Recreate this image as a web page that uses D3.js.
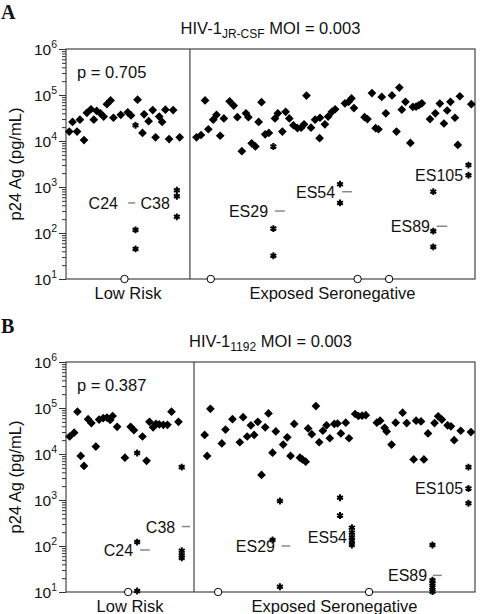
<!DOCTYPE html>
<html><head><meta charset="utf-8">
<script src="https://cdn.jsdelivr.net/npm/d3@7"></script>
<style>
body{margin:0;background:#fff}
text{font-family:"Liberation Sans",Arial,Helvetica,sans-serif;fill:#111}
</style>
</head><body><svg id="c" width="480" height="614"></svg>
<script>
// ---------- DATA (x = donor position 0..100 along the axis, y = p24 Ag pg/mL) ----------
const yTickValues = [10, 100, 1000, 10000, 100000, 1000000];
const yTickExponents = ["1", "2", "3", "4", "5", "6"];
const groupLabels = ["Low Risk", "Exposed Seronegative"];

// Panel A: HIV-1 JR-CSF
const aTitleMain = "HIV-1", aTitleSub = "JR-CSF", aTitleRest = " MOI = 0.003";
const aPValue = "p = 0.705";
const aDivider = 30.3;
const aLowRisk = [[0.8,1.6e4],[1.6,2.6e4],[2.7,1.6e4],[3.4,2.9e4],[4.4,1.05e4],[5.1,4.1e4],[6.1,4.9e4],[6.8,2.9e4],[7.5,4.5e4],[8.4,4.0e4],[9.2,3.4e4],[10.0,6.3e4],[10.9,7.6e4],[11.6,3.2e4],[13.4,3.7e4],[15.1,4.2e4],[15.9,3.6e4],[17.5,7.9e4],[18.7,1.5e4],[19.1,3.8e4],[20.2,2.7e4],[21.2,4.7e4],[21.9,1.2e4],[22.8,3.4e4],[23.5,2.6e4],[24.3,4.8e4],[25.2,1.1e4],[26.2,4.7e4],[27.8,1.2e4]];
const aExposed = [[31.9,1.2e4],[33.0,1.35e4],[34.0,7.6e4],[34.8,1.8e4],[36.0,2.9e4],[36.8,3.7e4],[37.7,1.3e4],[38.6,3.1e4],[40.0,7.3e4],[41.0,5.9e4],[41.9,3.3e4],[43.0,6.0e3],[44.0,4.0e4],[44.6,3.3e4],[45.4,8.9e3],[46.3,7.6e3],[47.1,2.6e4],[47.8,7.0e4],[48.7,1.4e4],[49.6,1.5e4],[51.1,3.1e4],[51.8,4.0e4],[52.9,1.6e4],[53.7,4.3e4],[54.6,3.1e4],[55.6,2.2e4],[56.6,1.9e4],[57.5,1.95e4],[58.2,2.3e4],[58.8,9.7e4],[59.9,1.95e4],[60.9,2.9e4],[62.1,3.2e4],[62.0,1.15e4],[63.3,2.3e4],[64.1,3.4e4],[65.0,4.3e4],[65.8,4.9e4],[68.2,6.6e4],[69.1,7.1e4],[69.8,8.4e4],[70.4,5.2e4],[73.0,3.3e4],[73.7,3.0e4],[74.8,1.1e5],[75.7,1.9e4],[76.4,1.8e4],[77.2,9.1e4],[78.2,4.0e4],[79.7,9.8e4],[80.8,1.6e4],[81.5,1.45e5],[82.1,4.8e4],[83.0,7.1e4],[84.2,9.1e3],[84.8,5.5e4],[85.6,5.6e4],[86.3,6.0e4],[87.0,6.6e4],[89.0,3.0e4],[90.3,4.0e4],[91.4,6.5e4],[92.4,2.4e4],[93.2,4.6e4],[94.0,7.1e4],[95.1,3.2e4],[95.8,8.2e3],[96.3,9.4e4],[99.1,6.3e4]];
const aAsterisks = [[17.0,2.2e4],[17.0,117],[17.0,45],[27.1,850],[27.1,630],[27.1,225],[50.7,7.6e3],[50.7,125],[50.7,32],[67.0,1150],[67.0,450],[89.8,790],[89.8,110],[89.8,50],[98.4,3000],[98.4,1800]];
const aBelowLimit = [14.3, 35.4, 71.3, 79.0];
const aDonorLabels = [
  {name:"C24", end:12.7, v:450, dash:[15.2,16.9]},
  {name:"C38", end:25.4, v:450, dash:null},
  {name:"ES29", end:49.4, v:300, dash:[51.1,53.5]},
  {name:"ES54", end:65.8, v:790, dash:[67.5,69.9]},
  {name:"ES89", end:89.0, v:140, dash:[90.7,93.2]},
  {name:"ES105", end:97.1, v:1800, dash:null}
];

// Panel B: HIV-1 1192
const bTitleMain = "HIV-1", bTitleSub = "1192", bTitleRest = " MOI = 0.003";
const bPValue = "p = 0.387";
const bDivider = 31.3;
const bLowRisk = [[0.9,2.4e4],[2.0,2.9e4],[2.8,8.3e4],[3.6,9.1e3],[4.4,5.5e3],[5.4,5.7e4],[6.2,4.7e4],[7.3,1.45e4],[8.1,5.6e4],[9.1,6.0e4],[10.0,6.2e4],[10.8,5.5e4],[11.4,6.7e4],[12.5,3.9e4],[14.4,8.3e3],[15.8,3.9e4],[16.6,3.3e4],[18.7,2.4e4],[19.7,7.1e3],[20.4,5.0e4],[21.3,3.8e4],[22.0,4.5e4],[22.8,4.4e4],[23.8,4.3e4],[24.8,4.3e4],[25.8,8.3e4],[27.5,5.0e4]];
const bExposed = [[33.9,2.6e4],[34.5,9.1e3],[35.3,9.6e4],[38.1,1.7e4],[39.0,3.4e4],[40.7,5.7e4],[42.5,1.8e4],[43.3,6.3e4],[44.3,2.4e4],[45.2,4.2e4],[46.0,2.6e4],[46.9,5.0e4],[47.8,3.5e3],[48.7,3.8e4],[49.5,7.6e4],[50.5,1.07e4],[51.3,3.1e4],[53.1,1.6e4],[54.1,2.3e4],[54.9,9.1e3],[55.8,4.5e4],[57.2,8.3e3],[57.8,7.6e3],[58.6,6.8e3],[59.2,3.6e4],[60.1,2.7e4],[61.1,1.1e5],[61.9,1.8e4],[62.8,3.2e4],[63.7,4.2e4],[64.5,2.2e4],[65.6,4.5e4],[66.4,4.6e4],[67.2,2.8e4],[68.4,4.8e4],[69.2,2.2e4],[70.7,7.4e4],[71.5,6.7e4],[72.4,6.8e4],[73.3,7.0e4],[76.0,4.8e4],[76.8,5.3e4],[77.9,3.7e4],[78.4,3.1e4],[79.6,1.6e4],[80.6,4.8e4],[82.3,7.9e4],[83.3,4.7e4],[85.0,7.6e3],[85.6,5.3e4],[86.8,5.1e4],[87.5,7.6e3],[88.5,2.8e4],[90.1,4.7e4],[91.0,6.6e4],[91.9,5.6e4],[93.3,4.2e4],[94.1,4.0e4],[94.9,2.0e4],[96.5,3.2e4],[99.0,3.0e4]];
const bAsterisks = [[17.4,1.05e4],[17.4,122],[17.4,10.5],[28.3,5200],[28.3,79],[28.3,63],[28.3,55],[52.3,950],[50.5,135],[52.3,13],[67.0,1120],[67.0,460],[69.9,250],[69.9,195],[69.9,155],[69.9,129],[69.9,105],[89.6,105],[89.6,18],[89.6,15.5],[89.6,12.6],[89.6,10.2],[98.4,5200],[98.4,1780],[98.4,850]];
const bBelowLimit = [15.2, 37.2, 74.1];
const bDonorLabels = [
  {name:"C24", end:16.4, v:82, dash:[18.1,20.5]},
  {name:"C38", end:26.7, v:265, dash:[28.3,30.3]},
  {name:"ES29", end:51.1, v:100, dash:[52.7,54.8]},
  {name:"ES54", end:68.7, v:155, dash:null},
  {name:"ES89", end:88.3, v:23, dash:[89.7,91.9]},
  {name:"ES105", end:97.1, v:1780, dash:null}
];

// ---------- DRAWING ----------
const svg = d3.select("#c");
const L = 66, R = 475;
const x = d3.scaleLinear().domain([0,100]).range([L,R]);

function drawPanel(p){
  const y = d3.scaleLog().domain([10,1e6]).range([p.bottom,p.top]);
  const g = svg.append("g");

  // panel letter
  g.append("text").attr("x",1).attr("y",p.letterY).text(p.letter)
    .style("font-family","'Liberation Serif','Times New Roman',serif")
    .style("font-weight","bold").style("font-size","20px");

  // title
  const t = g.append("text").attr("x",(L+R)/2).attr("y",p.top-15)
    .attr("text-anchor","middle").style("font-size","16.5px");
  t.append("tspan").text(p.titleMain);
  t.append("tspan").attr("dy",4).style("font-size","12px").text(p.titleSub);
  t.append("tspan").attr("dy",-4).text(p.titleRest);

  // minor + major ticks
  const minors = [];
  for (let e=1;e<6;e++) for (let k=2;k<=9;k++) minors.push(k*Math.pow(10,e));
  g.append("g").attr("transform",`translate(${L},0)`)
    .call(d3.axisLeft(y).tickValues(minors).tickSize(4).tickFormat(""))
    .call(s=>s.select(".domain").remove())
    .call(s=>s.selectAll("line").attr("stroke","#333"));
  g.append("g").attr("transform",`translate(${L},0)`)
    .call(d3.axisLeft(y).tickValues(yTickValues).tickSize(7).tickFormat(""))
    .call(s=>s.select(".domain").remove())
    .call(s=>s.selectAll("line").attr("stroke","#333"));

  // tick labels 10^n
  yTickValues.forEach((v,i)=>{
    const tt = g.append("text").attr("x",L-9).attr("y",y(v)+6)
      .attr("text-anchor","end").style("font-size","15.5px");
    tt.append("tspan").text("10");
    tt.append("tspan").attr("dy",-7).style("font-size","10.5px").text(yTickExponents[i]);
  });

  // y title
  g.append("text").attr("transform",`translate(21,${(p.top+p.bottom)/2}) rotate(-90)`)
    .attr("text-anchor","middle").style("font-size","16.5px").text("p24 Ag (pg/mL)");

  // frame and divider
  g.append("rect").attr("x",L).attr("y",p.top).attr("width",R-L).attr("height",p.bottom-p.top)
    .attr("fill","none").attr("stroke","#333").attr("stroke-width",1.1);
  g.append("line").attr("x1",x(p.divider)).attr("x2",x(p.divider))
    .attr("y1",p.top).attr("y2",p.bottom).attr("stroke","#333").attr("stroke-width",1.1);

  // p value
  g.append("text").attr("x",x(2.7)).attr("y",y(3.2e5)+6).style("font-size","16.5px").text(p.pText);

  // group labels
  g.append("text").attr("x",x(p.divider/2)).attr("y",p.bottom+20).attr("text-anchor","middle")
    .style("font-size","16.5px").text(groupLabels[0]);
  g.append("text").attr("x",x((p.divider+100)/2)).attr("y",p.bottom+20).attr("text-anchor","middle")
    .style("font-size","16.5px").text(groupLabels[1]);

  // diamonds
  const diamond = d3.symbol(d3.symbolSquare, 38)();
  g.append("g").selectAll("path").data(p.low.concat(p.es)).join("path")
    .attr("d",diamond).attr("fill","#000")
    .attr("transform",d=>`translate(${x(d[0])},${y(d[1])}) rotate(45)`);

  // asterisks
  const ast = d3.symbol(d3.symbolAsterisk, 32)();
  g.append("g").selectAll("path").data(p.ast).join("path")
    .attr("d",ast).attr("fill","none").attr("stroke","#000").attr("stroke-width",2)
    .attr("transform",d=>`translate(${x(d[0])},${y(d[1])})`);

  // below detection limit open circles
  g.append("g").selectAll("circle").data(p.circles).join("circle")
    .attr("cx",d=>x(d)).attr("cy",y(10)).attr("r",3.7)
    .attr("fill","#fff").attr("stroke","#000").attr("stroke-width",1);

  // donor labels
  p.labels.forEach(d=>{
    g.append("text").attr("x",x(d.end)).attr("y",y(d.v)+6).attr("text-anchor","end")
      .style("font-size","16px").text(d.name);
    if (d.dash) g.append("line").attr("x1",x(d.dash[0])).attr("x2",x(d.dash[1]))
      .attr("y1",y(d.v)).attr("y2",y(d.v)).attr("stroke","#888").attr("stroke-width",1.5);
  });
}

drawPanel({top:49,bottom:279,letter:"A",letterY:19,titleMain:aTitleMain,titleSub:aTitleSub,titleRest:aTitleRest,
  pText:aPValue,divider:aDivider,low:aLowRisk,es:aExposed,ast:aAsterisks,circles:aBelowLimit,labels:aDonorLabels});
drawPanel({top:362,bottom:592,letter:"B",letterY:333,titleMain:bTitleMain,titleSub:bTitleSub,titleRest:bTitleRest,
  pText:bPValue,divider:bDivider,low:bLowRisk,es:bExposed,ast:bAsterisks,circles:bBelowLimit,labels:bDonorLabels});
</script></body></html>
